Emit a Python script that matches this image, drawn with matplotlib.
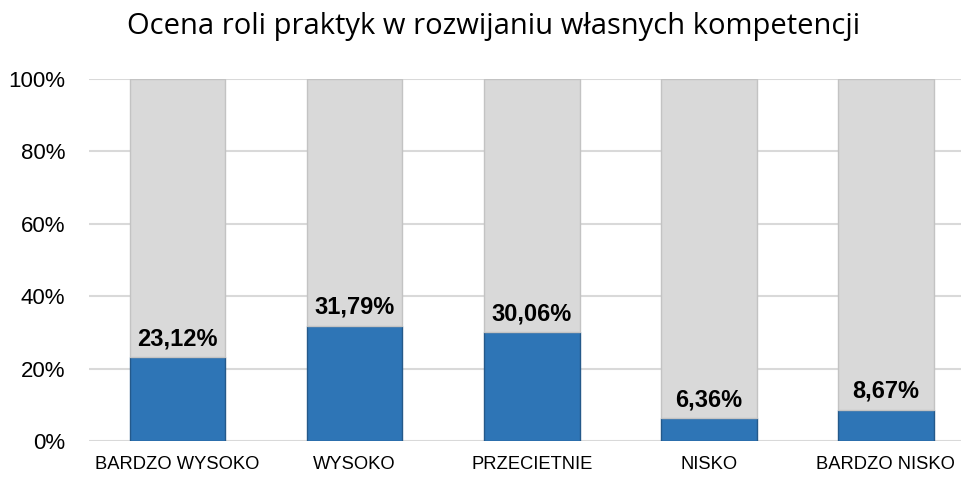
import numpy as np
from matplotlib import pyplot as plt
from matplotlib.ticker import FuncFormatter

categories = ["BARDZO WYSOKO", "WYSOKO", "PRZECIETNIE", "NISKO", "BARDZO NISKO"]
values = [23.12, 31.79, 30.06, 6.36, 8.67]
labels = ["23,12%", "31,79%", "30,06%", "6,36%", "8,67%"]
remainder = [100 - v for v in values]

plt.rcParams['font.family'] = ['Liberation Sans', 'DejaVu Sans']

fig = plt.figure(figsize=(9.62, 4.83), dpi=100)
ax = fig.add_axes([0.0925, 0.087, 0.9075, 0.7494])

x = np.arange(len(categories))
width = 0.54
ax.bar(x, values, width, color='#2E75B6', edgecolor='#24598A', linewidth=1, zorder=3)
ax.bar(x, remainder, width, bottom=values, color='#D9D9D9', edgecolor='#C3C3C3', linewidth=1, zorder=3)

for xi, v, lab in zip(x, values, labels):
    ax.annotate(lab, (xi, v), xytext=(0, 5), textcoords='offset points',
                ha='center', va='bottom', fontsize=17, fontweight='bold', zorder=4)

ax.set_xlim(-0.5, 4.43)
ax.set_ylim(0, 100)
ax.set_yticks(range(0, 101, 20))
ax.yaxis.set_major_formatter(FuncFormatter(lambda v, p: f"{int(v)}%"))
ax.set_xticks(x)
ax.set_xticklabels(categories, fontsize=13.2)
ax.tick_params(axis='y', length=0, labelsize=16, pad=17)
ax.tick_params(axis='x', length=0, pad=11)
ax.grid(axis='y', color='#D9D9D9', linewidth=1.5, zorder=0)
for s in ax.spines.values():
    s.set_visible(False)

fig.suptitle("Ocena roli praktyk w rozwijaniu własnych kompetencji", fontsize=21, y=0.975,
             x=0.513, family=['Open Sans', 'DejaVu Sans'])

fig.savefig("out.png", dpi=100)
